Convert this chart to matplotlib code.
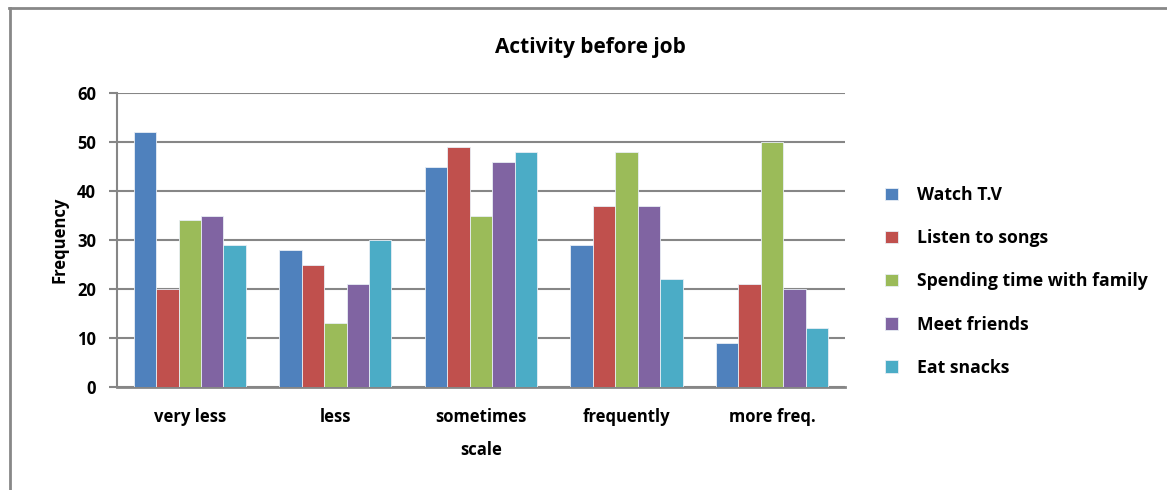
import matplotlib
matplotlib.use("Agg")
import matplotlib.pyplot as plt
import numpy as np
from matplotlib.lines import Line2D

categories = ["very less", "less", "sometimes", "frequently", "more freq."]
series_names = ["Watch T.V", "Listen to songs", "Spending time with family",
                "Meet friends", "Eat snacks"]
watch_tv = [52, 28, 45, 29, 9]
listen_songs = [20, 25, 49, 37, 21]
family_time = [34, 13, 35, 48, 50]
meet_friends = [35, 21, 46, 37, 20]
eat_snacks = [29, 30, 48, 22, 12]
series_values = [watch_tv, listen_songs, family_time, meet_friends, eat_snacks]
colors = ["#4F81BD", "#C0504D", "#9BBB59", "#8064A2", "#4BACC6"]
y_ticks = [0, 10, 20, 30, 40, 50, 60]

plt.rcParams["font.family"] = ["Open Sans", "DejaVu Sans"]
plt.rcParams["font.weight"] = "bold"

FS = 12

fig = plt.figure(figsize=(11.67, 4.90), dpi=100)
ax = fig.add_axes([0.1003, 0.2102, 0.6236, 0.6000])

n = len(series_values)
width = 0.154
x = np.arange(len(categories))
for i, (vals, name, c) in enumerate(zip(series_values, series_names, colors)):
    offs = (i - (n - 1) / 2) * width
    ax.bar(x + offs, vals, width=width, color=c, label=name,
           edgecolor="#e8eef5", linewidth=0.6, zorder=3)

ax.set_xlim(-0.5, len(categories) - 0.5)
ax.set_ylim(0, 60)
ax.set_yticks(y_ticks)
ax.set_xticks(x)
ax.set_xticklabels(categories, fontsize=FS, fontweight="bold")
ax.tick_params(axis="x", length=0, pad=15)
ax.tick_params(axis="y", length=6, width=1.5, color="#868686", pad=9,
               labelsize=FS)
for lab in ax.get_yticklabels():
    lab.set_fontweight("bold")
ax.yaxis.grid(True, color="#868686", linewidth=1.5, zorder=0)
ax.set_axisbelow(True)
for side in ["top", "right"]:
    ax.spines[side].set_visible(False)
ax.spines["left"].set_color("#868686")
ax.spines["left"].set_linewidth(1.5)
ax.spines["bottom"].set_color("#868686")
ax.spines["bottom"].set_linewidth(2)

ax.set_ylabel("Frequency", fontsize=FS, fontweight="bold", labelpad=6)
ax.set_xlabel("scale", fontsize=FS, fontweight="bold", labelpad=11)

fig.text(0.506, 0.904, "Activity before job", ha="center", va="center",
         fontsize=15, fontweight="bold")

leg = fig.legend(loc="upper left", bbox_to_anchor=(0.745, 0.652),
                 frameon=False, handlelength=0.7,
                 handleheight=0.7, handletextpad=1.1, labelspacing=1.42,
                 prop={"weight": "bold", "size": 12.7})

# chart area outline
fig.add_artist(Line2D([9.5 / 1167, 9.5 / 1167], [0, 1 - 8 / 490],
                      transform=fig.transFigure, color="#888888", linewidth=2))
fig.add_artist(Line2D([8.5 / 1167, 1], [1 - 8.5 / 490, 1 - 8.5 / 490],
                      transform=fig.transFigure, color="#888888", linewidth=2))

fig.savefig("out.png", dpi=100)
